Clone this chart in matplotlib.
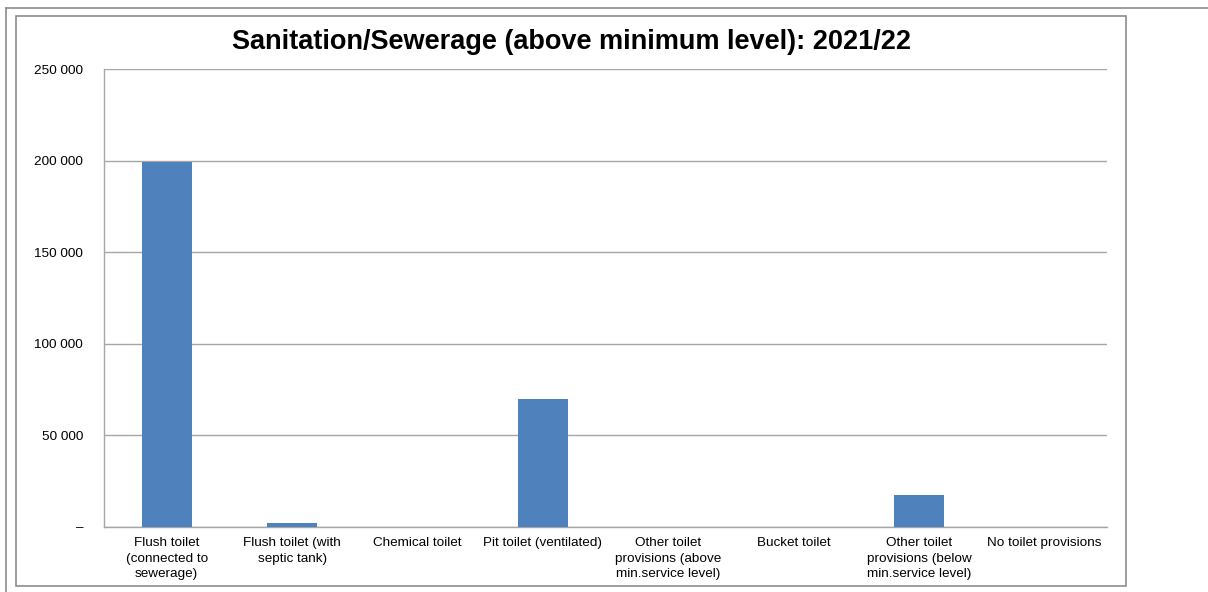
import matplotlib
matplotlib.use('Agg')
import matplotlib.pyplot as plt
from matplotlib.lines import Line2D
from matplotlib.patches import Rectangle
from matplotlib.ticker import FuncFormatter

categories = [
    'Flush toilet\n(connected to\nsewerage)',
    'Flush toilet (with\nseptic tank)',
    'Chemical toilet',
    'Pit toilet (ventilated)',
    'Other toilet\nprovisions (above\nmin.service level)',
    'Bucket toilet',
    'Other toilet\nprovisions (below\nmin.service level)',
    'No toilet provisions',
]
households = [199000, 2200, 0, 70000, 0, 0, 17500, 0]
y_ticks = [0, 50000, 100000, 150000, 200000, 250000]

W, H = 1208, 592
plt.rcParams['font.family'] = ['Liberation Sans', 'DejaVu Sans']

fig = plt.figure(figsize=(W / 100, H / 100), dpi=100)

# Outer page frame lines and inner chart box
grey = '#8c8c8c'
fig.add_artist(Line2D([6 / W, 1], [1 - 8 / H, 1 - 8 / H], color=grey, lw=1.2))
fig.add_artist(Line2D([6 / W, 6 / W], [0, 1 - 8 / H], color=grey, lw=1.2))
fig.add_artist(Rectangle((16 / W, 1 - 586 / H), (1126 - 16) / W, (586 - 16) / H,
                         fill=False, edgecolor=grey, lw=1.2))

left, right, top, bottom = 104, 1107, 69, 527
ax = fig.add_axes([left / W, 1 - bottom / H, (right - left) / W, (bottom - top) / H])

x = range(len(categories))
ax.bar(x, households, width=0.4, color='#4f81bd', zorder=3)

ax.set_xlim(-0.5, len(categories) - 0.5)
ax.set_ylim(0, 250000)
ax.set_yticks(y_ticks)
ax.yaxis.set_major_formatter(FuncFormatter(
    lambda v, p: '–' if v == 0 else f'{int(v):,}'.replace(',', ' ')))
ax.set_xticks(list(x))
ax.set_xticklabels(categories, fontsize=9.7, linespacing=1.42)
ax.tick_params(axis='y', length=0, labelsize=9.7, pad=15)
ax.tick_params(axis='x', length=0, pad=7)
ax.grid(axis='y', color='#a6a6a6', lw=1.0, zorder=0)

for s in ['top', 'right']:
    ax.spines[s].set_visible(False)
for s in ['left', 'bottom']:
    ax.spines[s].set_color('#a6a6a6')
    ax.spines[s].set_linewidth(1.0)

fig.text(572 / W, 1 - 42 / H, 'Sanitation/Sewerage (above minimum level): 2021/22',
         ha='center', va='center', fontsize=19.5, fontweight='bold')

fig.savefig('out.png', dpi=100)
